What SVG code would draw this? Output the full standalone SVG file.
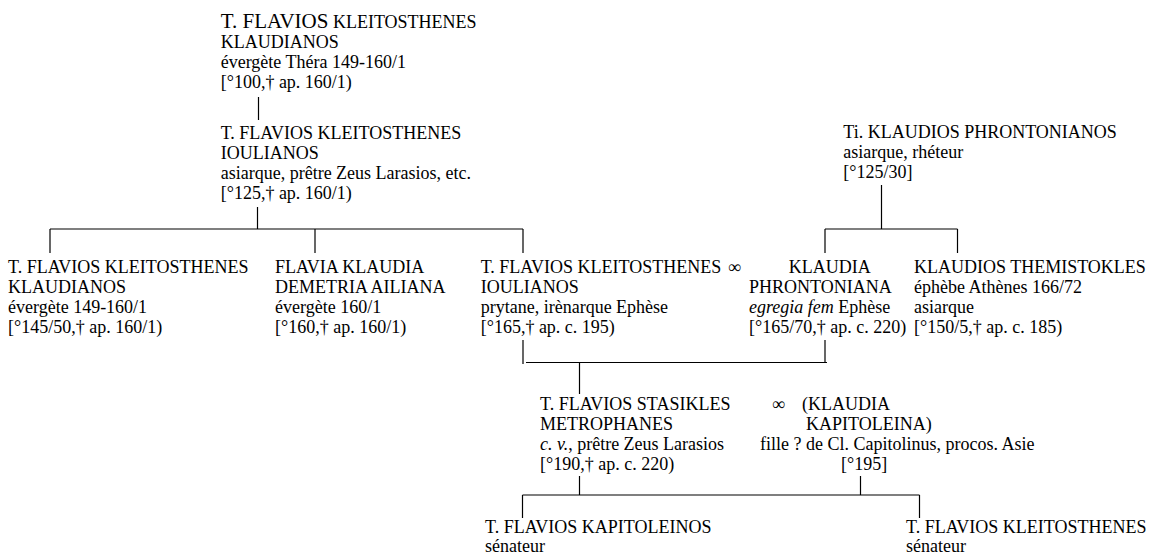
<svg xmlns="http://www.w3.org/2000/svg" width="1157" height="559" viewBox="0 0 1157 559">
<style>
text{font-family:"Liberation Serif","Times New Roman",serif;font-size:18px;fill:#000}
.big{font-size:21px}
.it{font-style:italic}
#connectors line{stroke:#000;stroke-width:1.2;fill:none}
</style>
<rect width="1157" height="559" fill="#fff"/>
<g id="connectors">
<line x1="258.5" y1="97" x2="258.5" y2="120"/>
<line x1="257.5" y1="207" x2="257.5" y2="229"/>
<line x1="50" y1="229" x2="523" y2="229"/>
<line x1="50" y1="229" x2="50" y2="253"/>
<line x1="315" y1="229" x2="315" y2="253"/>
<line x1="523" y1="229" x2="523" y2="253"/>
<line x1="881.5" y1="185" x2="881.5" y2="229"/>
<line x1="825" y1="229" x2="957.5" y2="229"/>
<line x1="825" y1="229" x2="825" y2="253"/>
<line x1="957.5" y1="229" x2="957.5" y2="253"/>
<line x1="523" y1="340" x2="523" y2="364"/>
<line x1="825" y1="340" x2="825" y2="363"/>
<line x1="526" y1="362.5" x2="827" y2="362.5"/>
<line x1="579.5" y1="362.5" x2="579.5" y2="394"/>
<line x1="579.5" y1="476" x2="579.5" y2="495"/>
<line x1="860.5" y1="476" x2="860.5" y2="495"/>
<line x1="522.5" y1="495" x2="919.5" y2="495"/>
<line x1="522.5" y1="495" x2="522.5" y2="518"/>
<line x1="919.5" y1="495" x2="919.5" y2="518"/>
</g>
<g id="n1">
<text x="220.7" y="28"><tspan class="big">T. FLAVIOS</tspan> KLEITOSTHENES</text>
<text x="220.7" y="48">KLAUDIANOS</text>
<text x="220.7" y="68">évergète Théra 149-160/1</text>
<text x="220.7" y="88">[°100,† ap. 160/1)</text>
</g>
<g id="n2">
<text x="220.7" y="139">T. FLAVIOS KLEITOSTHENES</text>
<text x="220.7" y="159">IOULIANOS</text>
<text x="220.7" y="179">asiarque, prêtre Zeus Larasios, etc.</text>
<text x="220.7" y="199">[°125,† ap. 160/1)</text>
</g>
<g id="n3">
<text x="843.3" y="138">Ti. KLAUDIOS PHRONTONIANOS</text>
<text x="843.3" y="158">asiarque, rhéteur</text>
<text x="843.3" y="178">[°125/30]</text>
</g>
<g id="nA">
<text x="8" y="273">T. FLAVIOS KLEITOSTHENES</text>
<text x="8" y="293">KLAUDIANOS</text>
<text x="8" y="313">évergète 149-160/1</text>
<text x="8" y="333">[°145/50,† ap. 160/1)</text>
</g>
<g id="nB">
<text x="275" y="273">FLAVIA KLAUDIA</text>
<text x="275" y="293">DEMETRIA AILIANA</text>
<text x="275" y="313">évergète 160/1</text>
<text x="275" y="333">[°160,† ap. 160/1)</text>
</g>
<g id="nC">
<text x="480.7" y="273">T. FLAVIOS KLEITOSTHENES</text>
<text x="480.7" y="293">IOULIANOS</text>
<text x="480.7" y="313">prytane, irènarque Ephèse</text>
<text x="480.7" y="333">[°165,† ap. c. 195)</text>
</g>
<g id="nD">
<text x="728" y="273">∞</text>
<text x="788.7" y="273">KLAUDIA</text>
<text x="749" y="293">PHRONTONIANA</text>
<text x="749" y="313"><tspan class="it">egregia fem</tspan> Ephèse</text>
<text x="749" y="333">[°165/70,† ap. c. 220)</text>
</g>
<g id="nE">
<text x="914" y="273">KLAUDIOS THEMISTOKLES</text>
<text x="914" y="293">éphèbe Athènes 166/72</text>
<text x="914" y="313">asiarque</text>
<text x="914" y="333">[°150/5,† ap. c. 185)</text>
</g>
<g id="nF">
<text x="540" y="410">T. FLAVIOS STASIKLES</text>
<text x="540" y="430">METROPHANES</text>
<text x="540" y="450"><tspan class="it">c. v.</tspan>, prêtre Zeus Larasios</text>
<text x="540" y="470">[°190,† ap. c. 220)</text>
</g>
<g id="nG">
<text x="772" y="410">∞</text>
<text x="802" y="410">(KLAUDIA</text>
<text x="806" y="430">KAPITOLEINA)</text>
<text x="760" y="450">fille ? de Cl. Capitolinus, procos. Asie</text>
<text x="841" y="470">[°195]</text>
</g>
<g id="nH">
<text x="485" y="533">T. FLAVIOS KAPITOLEINOS</text>
<text x="485" y="552">sénateur</text>
</g>
<g id="nI">
<text x="906" y="533">T. FLAVIOS KLEITOSTHENES</text>
<text x="906" y="552">sénateur</text>
</g>
</svg>
